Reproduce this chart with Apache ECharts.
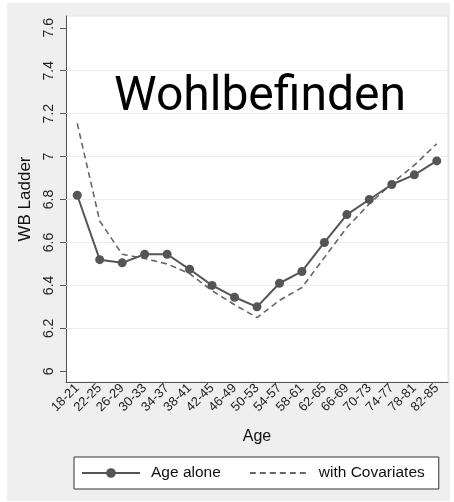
<!DOCTYPE html>
<html>
<head>
<meta charset="utf-8">
<script src="https://cdn.jsdelivr.net/npm/echarts@6/dist/echarts.min.js"></script>
<style>
  html, body { margin: 0; padding: 0; background: #ffffff; }
  #chart { width: 454px; height: 502px; }
</style>
</head>
<body>
<div id="chart"></div>
<script>
// Age groups on the x axis
const ageGroups = ['18-21', '22-25', '26-29', '30-33', '34-37', '38-41', '42-45', '46-49',
  '50-53', '54-57', '58-61', '62-65', '66-69', '70-73', '74-77', '78-81', '82-85'];

// Mean WB ladder score by age group, age only
const ageAlone = [6.82, 6.52, 6.505, 6.545, 6.545, 6.475, 6.40, 6.345, 6.30,
  6.41, 6.465, 6.60, 6.73, 6.80, 6.87, 6.915, 6.98];

// Same estimate, controlling for covariates
const withCovariates = [7.155, 6.70, 6.545, 6.525, 6.50, 6.455, 6.375, 6.31, 6.25,
  6.33, 6.39, 6.53, 6.67, 6.78, 6.875, 6.96, 7.06];

// Y axis tick values and the inner grid lines
const yTicks = [6, 6.2, 6.4, 6.6, 6.8, 7, 7.2, 7.4, 7.6];
const yGridLines = [6.2, 6.4, 6.6, 6.8, 7, 7.2, 7.4];

const FONT = 'Liberation Sans, Arial, sans-serif';
const chart = echarts.init(document.getElementById('chart'), null, { renderer: 'canvas' });

chart.setOption({
  animation: false,
  backgroundColor: '#efefef',
  graphic: [
    // white margin round the grey panel
    { type: 'rect', shape: { x: 0, y: 0, width: 454, height: 3 }, style: { fill: '#fff' }, silent: true },
    { type: 'rect', shape: { x: 0, y: 0, width: 7, height: 502 }, style: { fill: '#fff' }, silent: true },
    { type: 'rect', shape: { x: 450, y: 0, width: 4, height: 502 }, style: { fill: '#fff' }, silent: true },
    { type: 'rect', shape: { x: 0, y: 501, width: 454, height: 1 }, style: { fill: '#fff' }, silent: true },
    {
      type: 'text', z: 100, silent: true,
      style: {
        text: 'Wohlbefinden', x: 260, y: 98,
        align: 'center', verticalAlign: 'middle',
        font: '48px Roboto, sans-serif', fill: '#000'
      }
    }
  ],
  grid: {
    left: 66, right: 6, top: 16, bottom: 120,
    show: true, backgroundColor: '#ffffff', borderColor: '#e2e2e2', borderWidth: 1
  },
  legend: {
    left: 74, top: 457,
    itemWidth: 58, itemHeight: 12, itemGap: 28,
    padding: [8, 14, 8, 7],
    backgroundColor: '#ffffff', borderColor: '#333333', borderWidth: 1,
    textStyle: { fontFamily: FONT, fontSize: 15.5, color: '#111', padding: [0, 0, 0, 6] },
    data: [
      { name: 'Age alone' },
      { name: 'with Covariates', itemStyle: { opacity: 0 } }
    ]
  },
  xAxis: {
    type: 'category',
    data: ageGroups,
    boundaryGap: true,
    name: 'Age', nameLocation: 'middle', nameGap: 47,
    nameTextStyle: { fontFamily: FONT, fontSize: 16, color: '#111' },
    axisLine: { lineStyle: { color: '#555', width: 1 } },
    axisTick: { alignWithLabel: true, length: 6, lineStyle: { color: '#555' } },
    axisLabel: { interval: 0, rotate: 45, margin: 4, fontFamily: FONT, fontSize: 13, color: '#222' },
    splitLine: { show: false }
  },
  yAxis: {
    type: 'value',
    min: 5.95, max: 7.655,
    name: 'WB Ladder', nameLocation: 'middle', nameGap: 24, nameRotate: 90,
    nameTextStyle: { fontFamily: FONT, fontSize: 17, color: '#111' },
    axisLine: { show: true, lineStyle: { color: '#555', width: 1 } },
    axisTick: { show: true, length: 6, customValues: yTicks, lineStyle: { color: '#555' } },
    axisLabel: {
      customValues: yTicks, rotate: 90, margin: 10,
      fontFamily: FONT, fontSize: 14, color: '#222',
      formatter: v => (Math.abs(v - Math.round(v)) < 1e-9 ? String(Math.round(v)) : v.toFixed(1))
    },
    splitLine: { show: false }
  },
  series: [
    {
      name: 'Age alone', type: 'line', data: ageAlone,
      symbol: 'circle', symbolSize: 9,
      lineStyle: { color: '#555', width: 2 },
      itemStyle: { color: '#555' },
      z: 3,
      markLine: {
        silent: true, symbol: ['none', 'none'], label: { show: false },
        lineStyle: { color: '#ececec', width: 1, type: 'solid' },
        emphasis: { disabled: true },
        data: yGridLines.map(v => ({ yAxis: v })),
        z: 1
      }
    },
    {
      name: 'with Covariates', type: 'line', data: withCovariates,
      symbol: 'none',
      lineStyle: { color: '#666', width: 1.6, type: [6, 4] },
      itemStyle: { color: '#666' },
      z: 2
    }
  ]
});
</script>
</body>
</html>
